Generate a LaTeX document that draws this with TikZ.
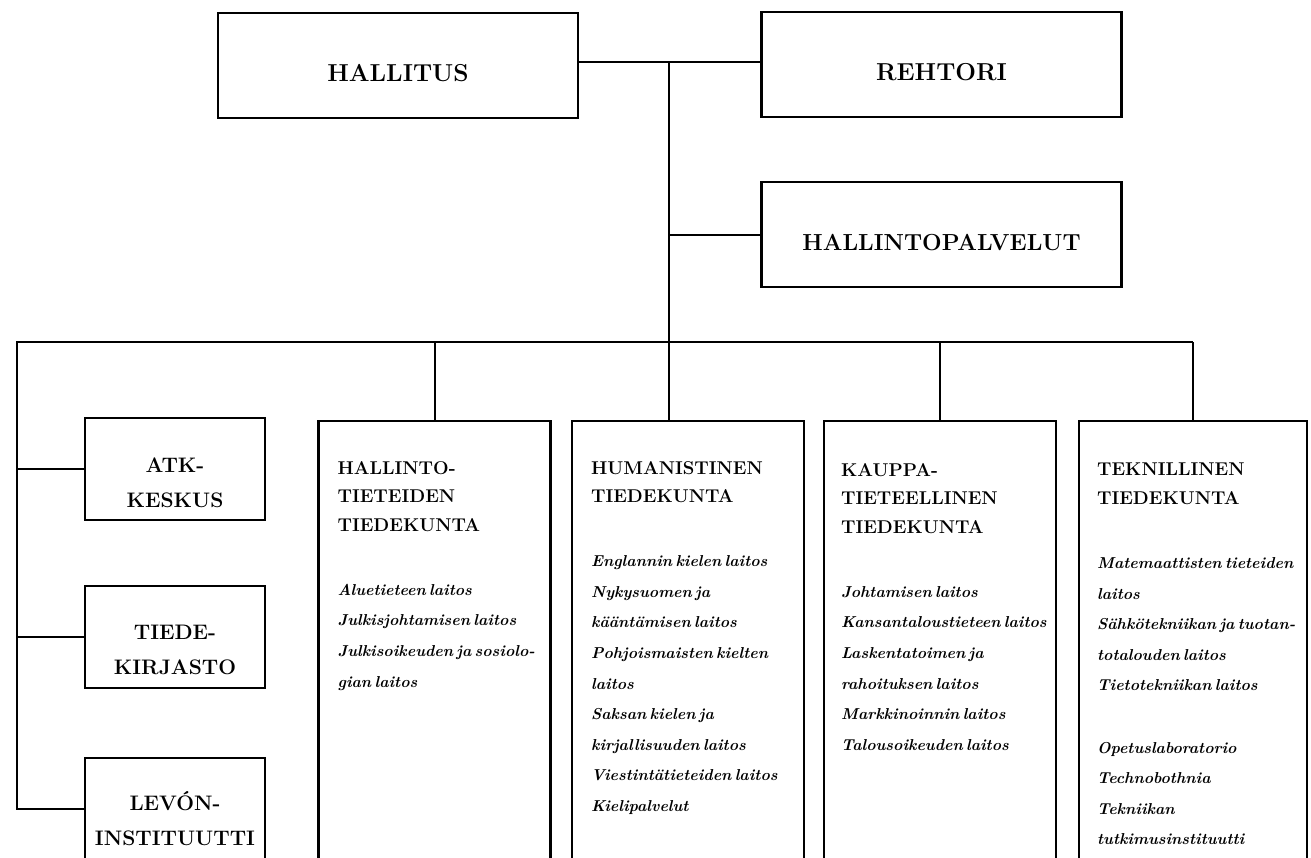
\documentclass[tikz,border=0pt]{standalone}
\usepackage{fontspec}
\usepackage{tikz}
\setlength{\parindent}{0pt}
\setlength{\parskip}{0pt}
\newcommand{\facultyhead}{\fontsize{18.5}{28.5}\selectfont\bfseries}
\newcommand{\deptlist}{\fontsize{15.8}{30.6}\selectfont\bfseries\itshape}

\begin{document}
\begin{tikzpicture}[x=1pt,y=-1pt,
    box/.style={draw,rectangle,line width=2.2pt,inner sep=0pt},
    topbox/.style={box,minimum width=360pt,minimum height=105pt,font=\fontsize{24.5}{30}\selectfont\bfseries,text height=31pt,text depth=0pt},
    unitbox/.style={box,minimum width=180pt,minimum height=102pt,align=center,font=\fontsize{21}{35}\selectfont\bfseries},
    facbox/.style={box,minimum width=232pt,minimum height=480pt,anchor=north},
    factext/.style={anchor=north west,inner sep=0pt,text width=240pt,align=left},
    link/.style={line width=2pt}]
    \useasboundingbox (0,0) rectangle (1311,857);
    \clip (0,0) rectangle (1311,857);
    \fill[white] (0,0) rectangle (1311,857);
    % Top level
    \node[topbox] (hallitus) at (398,65.5) {HALLITUS};
    \node[topbox] (rehtori) at (941.5,64.5) {REHTORI};
    \node[topbox,font=\fontsize{23.2}{30}\selectfont\bfseries] (palvelut) at (941.5,234.5) {HALLINTOPALVELUT};
    % Separate units on the left
    \node[unitbox] (atk) at (175,469) {\rule{0pt}{42pt}ATK-\\KESKUS};
    \node[unitbox] (tiede) at (175,637) {\rule{0pt}{40pt}TIEDE-\\KIRJASTO};
    \node[unitbox] (levon) at (175,809) {\rule{0pt}{38pt}LEVÓN-\\INSTITUUTTI};
    % Faculties
    \node[facbox] (hallfac) at (434.5,420) {};
    \node[facbox] (humfac) at (688,420) {};
    \node[facbox] (kauppafac) at (940,420) {};
    \node[facbox,minimum width=228pt] (teknfac) at (1193,420) {};
    \node[factext] (halltxt) at ([xshift=20pt,yshift=-41pt]hallfac.north west)
      {{\facultyhead HALLINTO-\\TIETEIDEN\\TIEDEKUNTA\par}\vspace{33.5pt}
       {\deptlist Aluetieteen laitos\\Julkisjohtamisen laitos\\Julkisoikeuden ja sosiolo-\\gian laitos\par}};
    \node[factext] (humtxt) at ([xshift=20pt,yshift=-41pt]humfac.north west)
      {{\facultyhead HUMANISTINEN\\TIEDEKUNTA\par}\vspace{33.5pt}
       {\deptlist Englannin kielen laitos\\Nykysuomen ja\\kääntämisen laitos\\Pohjoismaisten kielten\\laitos\\Saksan kielen ja\\kirjallisuuden laitos\\Viestintätieteiden laitos\\Kielipalvelut\par}};
    \node[factext] (kauppatxt) at ([xshift=18pt,yshift=-43pt]kauppafac.north west)
      {{\facultyhead KAUPPA-\\TIETEELLINEN\\TIEDEKUNTA\par}\vspace{33.5pt}
       {\deptlist Johtamisen laitos\\Kansantaloustieteen laitos\\Laskentatoimen ja\\rahoituksen laitos\\Markkinoinnin laitos\\Talousoikeuden laitos\par}};
    \node[factext] (tekntxt) at ([xshift=19pt,yshift=-43pt]teknfac.north west)
      {{\facultyhead TEKNILLINEN\\TIEDEKUNTA\par}\vspace{33.5pt}
       {\deptlist Matemaattisten tieteiden\\laitos\\Sähkötekniikan ja tuotan-\\totalouden laitos\\Tietotekniikan laitos\\[31.5pt]Opetuslaboratorio\\Technobothnia\\Tekniikan\\tutkimusinstituutti\par}};
    % Connectors
    \coordinate (top) at (669,62);
    \coordinate (bus) at (669,342);
    \coordinate (busL) at (17,342);
    \coordinate (busR) at (1193,342);
    \draw[link] (hallitus.east |- top) -- (rehtori.west |- top);
    \draw[link] (top) -- (bus);
    \draw[link] (palvelut.west) -- (palvelut.west -| top);
    \draw[link] (busR) -- (busL) |- (levon.west);
    \foreach \u in {atk,tiede}
      \draw[link] (\u.west) -- (\u.west -| busL);
    \foreach \f in {hallfac,kauppafac,teknfac}
      \draw[link] (\f.north) -- (\f.north |- bus);
    \draw[link] (bus) -- (bus |- humfac.north);
\end{tikzpicture}
\end{document}
